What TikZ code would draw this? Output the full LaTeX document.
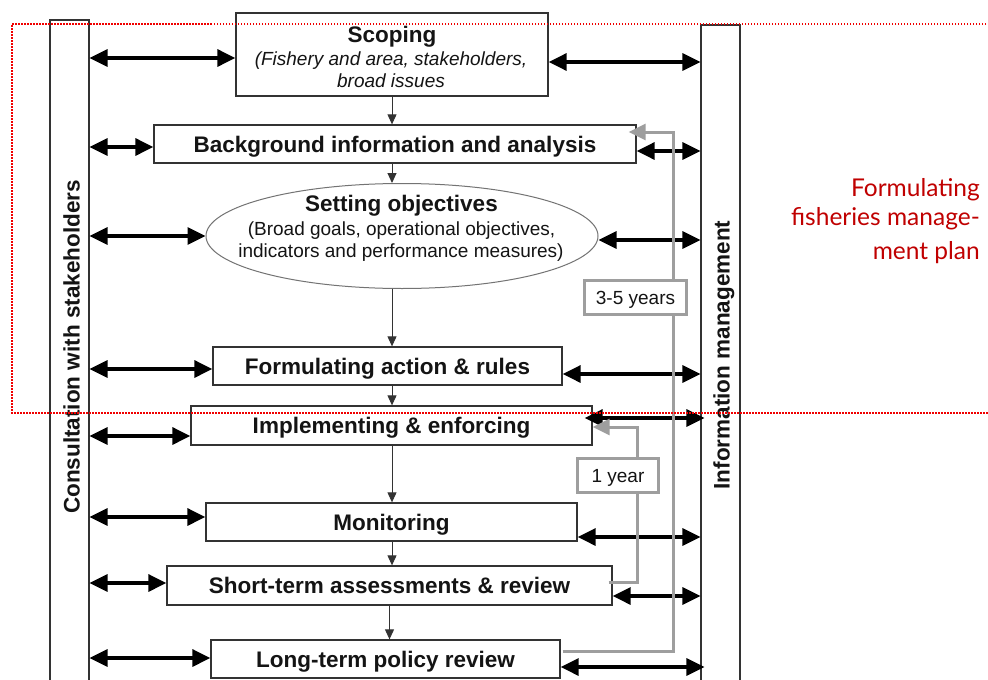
\documentclass[tikz,border=0pt]{standalone}
\usepackage{fontspec}
\setmainfont{Liberation Sans}
\newfontfamily\redfont{Lato}
\usetikzlibrary{arrows.meta,shapes.geometric,calc}
\definecolor{frame}{gray}{0.2}
\definecolor{fb}{gray}{0.62}
\definecolor{dred}{RGB}{192,0,0}
\definecolor{dotred}{RGB}{240,0,0}
\definecolor{txt}{gray}{0.08}
\begin{document}
\begin{tikzpicture}[x=1pt,y=-1pt,
  box/.style={draw=frame, line width=1.3pt, fill=white, inner sep=0pt, text=txt,
    font=\bfseries\fontsize{22.5}{26}\selectfont, text height=16pt, text depth=0pt},
  bar/.style={draw=frame, line width=1.1pt, fill=white, minimum width=39pt, inner sep=0pt},
  bartext/.style={rotate=90, text=txt, font=\bfseries\fontsize{22.5}{26}\selectfont,
    text height=16pt, text depth=0pt, inner sep=0pt},
  boldline/.style={anchor=base, inner sep=0pt, text=txt, font=\bfseries\fontsize{22.5}{26}\selectfont},
  itline/.style={anchor=base, inner sep=0pt, text=txt, font=\itshape\fontsize{19}{22}\selectfont},
  rgline/.style={anchor=base, inner sep=0pt, text=txt, font=\fontsize{19}{22}\selectfont},
  biarrow/.style={line width=3.2pt, {Triangle[length=18pt,width=17pt]}-{Triangle[length=18pt,width=17pt]}},
  flow/.style={draw=frame, line width=1pt, -{Triangle[length=10pt,width=9pt]}},
  fback/.style={draw=fb, line width=3pt, -{Triangle[length=17pt,width=16pt]}},
  yearbox/.style={draw=fb, line width=3pt, fill=white, inner sep=0pt, text=txt,
    font=\fontsize{19}{22}\selectfont, text height=13.6pt, text depth=0pt},
  redtxt/.style={text=dred, font=\redfont\fontsize{24.5}{28}\selectfont, anchor=base east, inner sep=0pt}
]
\useasboundingbox[fill=white] (0,0) rectangle (988,680);

% side bars
\node[bar, minimum height=670pt] (cons) at (69.5,355) {};
\node[bartext] (consT) at (71.5,347) {Consultation with stakeholders};
\node[bar, minimum height=665pt] (info) at (720.5,357.5) {};
\node[bartext] (infoT) at (721.5,355) {Information management};

% boxes
\node[box, minimum width=312pt, minimum height=83pt] (scope) at (392,54.5) {};
\node[boldline] (scopeT) at (392,42.5) {Scoping};
\node[itline] (scopeA) at (391,65.5) {(Fishery and area, stakeholders,};
\node[itline] (scopeB) at (391,87.5) {broad issues};

\node[box, minimum width=482pt, minimum height=38pt] (bg) at (395,144) {Background information and analysis};

\node[ellipse, draw=black!55, line width=1pt, fill=white, inner sep=0pt,
  minimum width=392pt, minimum height=105pt] (obj) at (402,236) {};
\node[boldline] (objT) at (401.5,211.5) {Setting objectives};
\node[rgline] (objA) at (401.5,235) {(Broad goals, operational objectives,};
\node[rgline] (objB) at (401,257.5) {indicators and performance measures)};

\node[box, minimum width=349pt, minimum height=38pt] (form) at (387.5,366) {Formulating action \& rules};
\node[box, minimum width=401pt, minimum height=39pt] (impl) at (391.5,425.5) {Implementing \& enforcing};
\node[box, minimum width=371pt, minimum height=38pt] (mon) at (391.5,522) {Monitoring};
\node[box, minimum width=445pt, minimum height=39pt] (st) at (389.5,585.5) {Short-term assessments \& review};
\node[box, minimum width=349pt, minimum height=38pt] (lt) at (385.5,659) {Long-term policy review};

% flow arrows
\draw[flow] (scope.south) -- (scope.south |- bg.north);
\draw[flow] (scope.south |- bg.south) -- (scope.south |- obj.north);
\draw[flow] ($(scope.south |- obj.south)+(0,-0.5)$) -- (scope.south |- form.north);
\draw[flow] (scope.south |- form.south) -- (scope.south |- impl.north);
\draw[flow] (scope.south |- impl.south) -- (scope.south |- mon.north);
\draw[flow] (scope.south |- mon.south) -- (scope.south |- st.north);
\draw[flow] (st.south) -- (st.south |- lt.north);

% left exchanges
\coordinate (sL) at ($(scope.west)+(0,3.5)$);
\coordinate (bL) at ($(bg.west)+(0,3)$);
\coordinate (oL) at (obj.west);
\coordinate (fL) at ($(form.west)+(0,3)$);
\coordinate (iL) at ($(impl.west)+(0,10.5)$);
\coordinate (mL) at ($(mon.west)+(0,-5)$);
\coordinate (tL) at ($(st.west)+(0,-2.5)$);
\coordinate (lL) at ($(lt.west)+(0,-1)$);
\foreach \c in {sL,bL,oL,fL,iL,mL,tL,lL}
  \draw[biarrow] (cons.east |- \c) -- (\c);

% right exchanges
\coordinate (sR) at ($(scope.east)+(0,7.5)$);
\coordinate (bR) at ($(bg.east)+(0,7)$);
\coordinate (oR) at ($(obj.east)+(0,4)$);
\coordinate (fR) at ($(form.east)+(0,8)$);
\coordinate (mR) at ($(mon.east)+(0,15)$);
\coordinate (tR) at ($(st.east)+(0,10.5)$);
\foreach \c in {sR,bR,oR,fR,mR,tR}
  \draw[biarrow] (\c) -- (info.west |- \c);
\coordinate (iR) at ($(impl.east)+(-8,-7.5)$);
\coordinate (lR) at ($(lt.east)+(0,8)$);
\draw[biarrow] (iR) -- ($(info.west |- iR)+(4,0)$);
\draw[biarrow] (lR) -- ($(info.west |- lR)+(4,0)$);

% feedback loops
\coordinate (ltOut) at ($(lt.east)+(2,-8)$);
\coordinate (bgIn) at ($(bg.east)+(-8,-12)$);
\draw[fback] (ltOut) -| ($(bgIn)+(45,0)$) -- (bgIn);
\coordinate (stOut) at ($(st.east)+(-4,-3.5)$);
\coordinate (imIn) at ($(impl.east)+(0,1.5)$);
\draw[fback] (stOut) -| ($(imIn)+(45,0)$) -- (imIn);
\node[yearbox, minimum width=102pt, minimum height=34pt] (y35) at (635.5,297.5) {3-5 years};
\node[yearbox, minimum width=81pt, minimum height=34pt] (y1) at (618,475.5) {1 year};

% red frame and caption
\draw[dotred, line width=1.7pt, dash pattern=on 1.5pt off 1.5pt]
  (995,24) -- (12,24) -- (12,413) -- (995,413);
\node[redtxt] (r1) at (980,196) {Formulating};
\node[redtxt] (r2) at (980,225) {fisheries manage-};
\node[redtxt] (r3) at (980,259) {ment plan};
\end{tikzpicture}
\end{document}
